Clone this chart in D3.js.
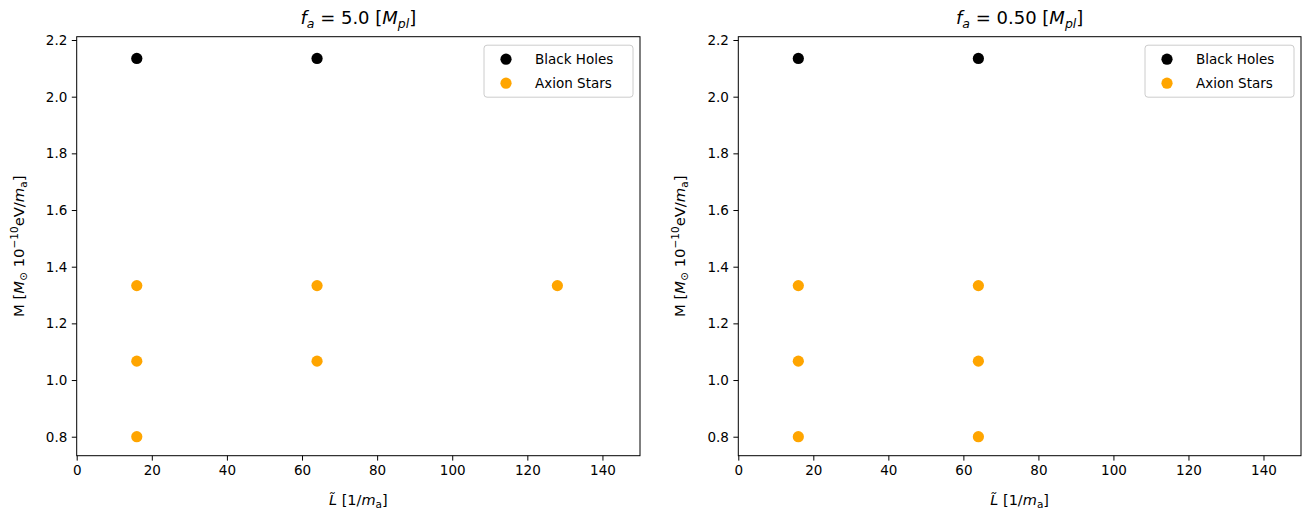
<!DOCTYPE html>
<html><head><meta charset="utf-8">
<script src="https://cdn.jsdelivr.net/npm/d3@7"></script>
<style>
html,body{margin:0;padding:0;background:#fff;}
svg{display:block;font-family:"DejaVu Sans",sans-serif;}
</style></head>
<body>
<svg id="c" width="1302" height="515"></svg>
<script>
// ---- data ----
const xTicks = [0, 20, 40, 60, 80, 100, 120, 140];
const yTicks = [0.8, 1.0, 1.2, 1.4, 1.6, 1.8, 2.0, 2.2];
const xDomain = [0, 150];
const yDomain = [0.733, 2.2117];
const seriesNames = ["Black Holes", "Axion Stars"];
const seriesColors = ["#000000", "#ffa500"];
// panel 1: f_a = 5.0
const p1_bh_x = [16, 64];
const p1_bh_y = [2.135, 2.135];
const p1_as_x = [16, 16, 16, 64, 64, 128];
const p1_as_y = [1.3333, 1.0667, 0.8, 1.3333, 1.0667, 1.3333];
// panel 2: f_a = 0.50
const p2_bh_x = [16, 64];
const p2_bh_y = [2.135, 2.135];
const p2_as_x = [16, 16, 16, 64, 64, 64];
const p2_as_y = [1.3333, 1.0667, 0.8, 1.3333, 1.0667, 0.8];
const titleValues = ["5.0", "0.50"];

const svg = d3.select("#c");
const plotTop = 36.7, plotBottom = 455.7;
const panels = [
  {left: 76.7, right: 640, title: titleValues[0], bh: [p1_bh_x, p1_bh_y], as: [p1_as_x, p1_as_y]},
  {left: 738.3, right: 1301, title: titleValues[1], bh: [p2_bh_x, p2_bh_y], as: [p2_as_x, p2_as_y]}
];

panels.forEach(p => {
  const x = d3.scaleLinear().domain(xDomain).range([p.left, p.right]);
  const y = d3.scaleLinear().domain(yDomain).range([plotBottom, plotTop]);
  const g = svg.append("g");

  const xa = g.append("g").attr("transform", `translate(0,${plotBottom})`)
    .call(d3.axisBottom(x).tickValues(xTicks).tickFormat(d3.format("d")).tickSize(4.9).tickPadding(4.5));
  const ya = g.append("g").attr("transform", `translate(${p.left},0)`)
    .call(d3.axisLeft(y).tickValues(yTicks).tickFormat(d3.format(".1f")).tickSize(4.9).tickPadding(4.5));
  [xa, ya].forEach(a => {
    a.select(".domain").remove();
    a.selectAll("line").attr("stroke", "#000").attr("stroke-width", 1);
    a.selectAll("text").attr("font-size", 13.5).attr("fill", "#000").attr("font-family", "DejaVu Sans");
  });

  // points
  [[p.bh, seriesColors[0]], [p.as, seriesColors[1]]].forEach(([s, col]) => {
    const pts = s[0].map((v, i) => [v, s[1][i]]);
    g.selectAll(null).data(pts).enter().append("circle")
      .attr("cx", d => x(d[0])).attr("cy", d => y(d[1])).attr("r", 5.6).attr("fill", col);
  });

  // frame
  g.append("rect").attr("x", p.left).attr("y", plotTop).attr("width", p.right - p.left).attr("height", plotBottom - plotTop)
    .attr("fill", "none").attr("stroke", "#000").attr("stroke-width", 1);

  // title
  const cx = (p.left + p.right) / 2;
  const t = g.append("text").attr("x", cx).attr("y", 24).attr("text-anchor", "middle")
    .attr("font-size", 18).attr("fill", "#000");
  t.append("tspan").attr("font-style", "italic").text("f");
  t.append("tspan").attr("font-size", 12.5).attr("dy", 3.5).attr("font-style", "italic").text("a");
  t.append("tspan").attr("dy", -3.5).text(" = " + p.title + " [");
  t.append("tspan").attr("font-style", "italic").text("M");
  t.append("tspan").attr("font-size", 12.5).attr("dy", 3.5).attr("font-style", "italic").text("pl");
  t.append("tspan").attr("dy", -3.5).text("]");

  // x label
  const xl = g.append("text").attr("x", cx).attr("y", 505).attr("text-anchor", "middle")
    .attr("font-size", 14.5).attr("fill", "#000");
  xl.append("tspan").attr("font-style", "italic").text("L\u0303");
  xl.append("tspan").text(" [1/");
  xl.append("tspan").attr("font-style", "italic").text("m");
  xl.append("tspan").attr("font-size", 10.5).attr("dy", 3).text("a");
  xl.append("tspan").attr("dy", -3).text("]");

  // y label
  const cy = (plotTop + plotBottom) / 2;
  const yl = g.append("text").attr("transform", `translate(${p.left - 53},${cy}) rotate(-90)`)
    .attr("text-anchor", "middle").attr("font-size", 14.8).attr("fill", "#000");
  yl.append("tspan").text("M [");
  yl.append("tspan").attr("font-style", "italic").text("M");
  yl.append("tspan").attr("font-size", 10.5).attr("dy", 3).text("\u2299");
  yl.append("tspan").attr("dy", -3).text(" 10");
  yl.append("tspan").attr("font-size", 10.5).attr("dy", -6).text("\u221210");
  yl.append("tspan").attr("dy", 6).text("eV/");
  yl.append("tspan").attr("font-style", "italic").text("m");
  yl.append("tspan").attr("font-size", 10.5).attr("dy", 3).text("a");
  yl.append("tspan").attr("dy", -3).text("]");

  // legend
  const lw = 149, lh = 52;
  const lx = p.right - 7 - lw, ly = plotTop + 8.5;
  const lg = g.append("g");
  lg.append("rect").attr("x", lx).attr("y", ly).attr("width", lw).attr("height", lh).attr("rx", 3)
    .attr("fill", "#fff").attr("fill-opacity", 0.8).attr("stroke", "#cccccc").attr("stroke-width", 1);
  seriesNames.forEach((n, i) => {
    const ry = ly + 14 + i * 24;
    lg.append("circle").attr("cx", lx + 22).attr("cy", ry).attr("r", 5.6).attr("fill", seriesColors[i]);
    lg.append("text").attr("x", lx + 51).attr("y", ry + 4.8).attr("font-size", 13.5).attr("fill", "#000").text(n);
  });
});
</script>
</body></html>
